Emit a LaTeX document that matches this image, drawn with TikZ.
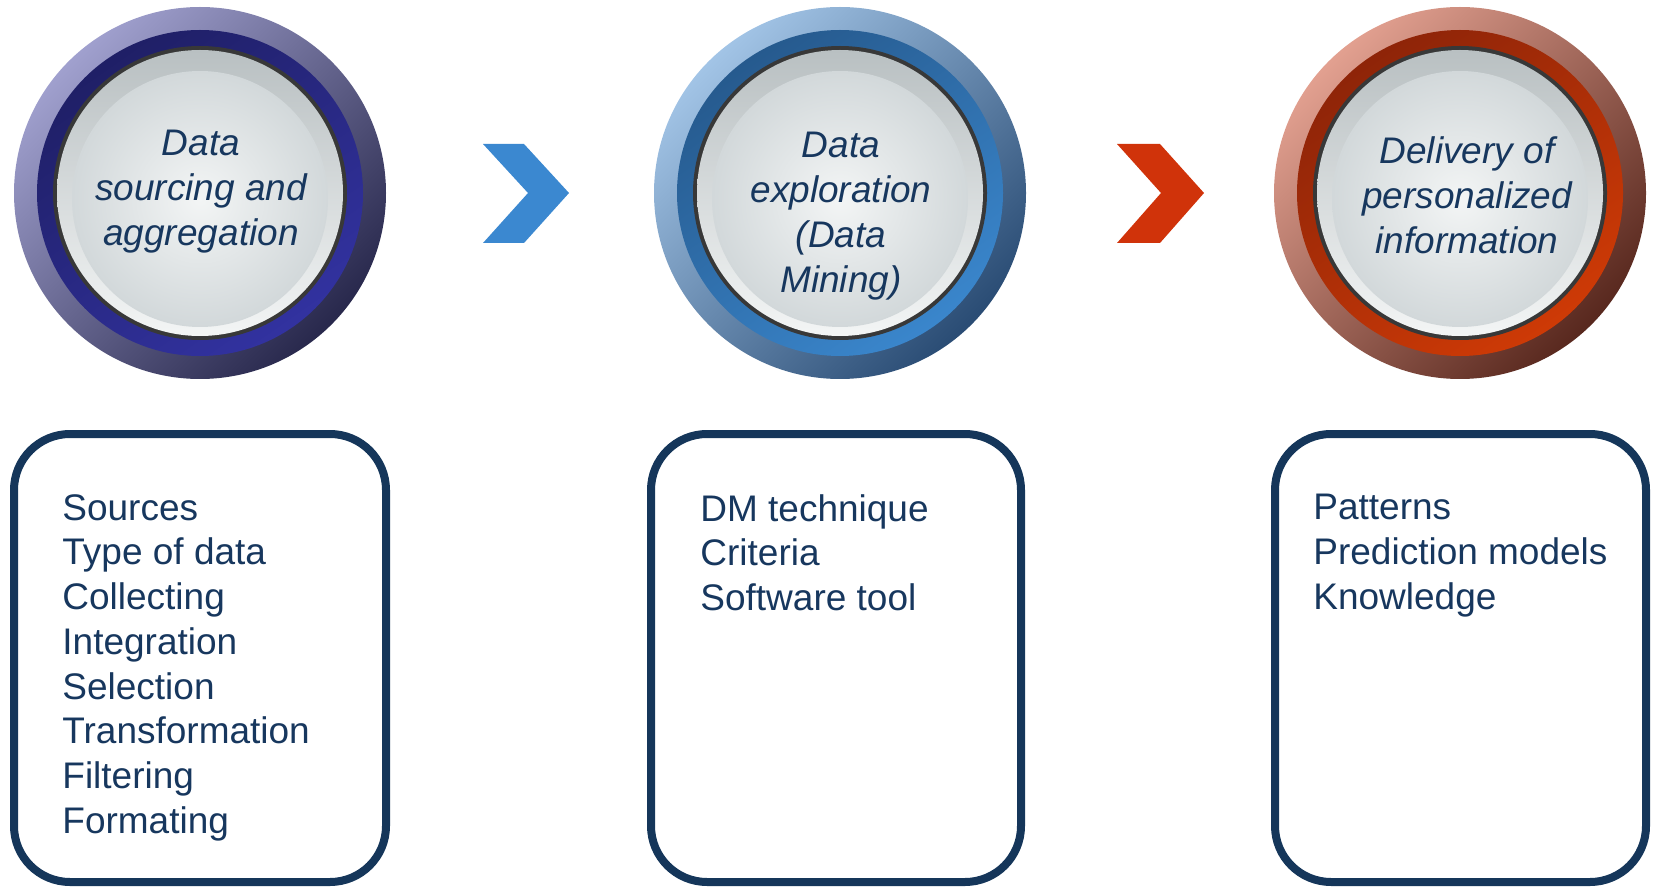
\documentclass[tikz,border=0pt]{standalone}
\usepackage{fontspec}
\setmainfont{Liberation Sans}
\definecolor{txt}{HTML}{17375E}
\definecolor{boxc}{HTML}{15365A}
\definecolor{chevblue}{HTML}{3B88D0}
\definecolor{chevred}{HTML}{D0330A}
\definecolor{faceIn}{HTML}{F3F5F5}
\definecolor{faceOut}{HTML}{D2D8DA}
\definecolor{faceTop}{HTML}{B9C0C2}
\definecolor{aL}{HTML}{A0A0CE}\definecolor{aM}{HTML}{2E2E7E}\definecolor{aD}{HTML}{28284C}
\definecolor{aRt}{HTML}{1F1F66}\definecolor{aRb}{HTML}{3232A0}
\definecolor{bL}{HTML}{A2C4E6}\definecolor{bM}{HTML}{356CA8}\definecolor{bD}{HTML}{2A4C74}
\definecolor{bRt}{HTML}{265A8E}\definecolor{bRb}{HTML}{3A86CC}
\definecolor{cL}{HTML}{E2A090}\definecolor{cM}{HTML}{A2301A}\definecolor{cD}{HTML}{58281E}
\definecolor{cRt}{HTML}{8E2408}\definecolor{cRb}{HTML}{CE3A06}
\newcommand{\dbutton}[8]{%
  \shade[top color=#3, middle color=#4, bottom color=#5, shading angle=45] (#1,#2) circle[radius=93pt];
  \shade[top color=#6, bottom color=#7, shading angle=35] (#1,#2) circle[radius=81.5pt];
  \fill[black!78] (#1,#2) circle[radius=73.5pt];
  \shade[top color=faceTop, bottom color=faceIn] (#1,#2) circle[radius=71.5pt];
  \shade[inner color=faceIn, outer color=faceOut] (#1,#2+6) circle[radius=64pt];
  \coordinate (#8) at (#1,#2);
}
\begin{document}
\begin{tikzpicture}[x=0.5pt,y=-0.5pt,
  ctext/.style={font=\itshape\fontsize{18.5pt}{22.5pt}\selectfont, text=txt, align=center, inner sep=0pt},
  btext/.style={font=\fontsize{18.5pt}{22.35pt}\selectfont, text=txt, align=left, anchor=north west, inner sep=0pt},
  panel/.style={draw=boxc, line width=4pt, rounded corners=28pt},
]
\useasboundingbox (0,0) rectangle (1653,887);

% buttons
\dbutton{200}{193}{aL}{aM}{aD}{aRt}{aRb}{c1}
\dbutton{840}{193}{bL}{bM}{bD}{bRt}{bRb}{c2}
\dbutton{1460}{193}{cL}{cM}{cD}{cRt}{cRb}{c3}

\node[ctext] (t1) at (201,192) {Data\\sourcing and\\aggregation};
\node[ctext] (t2) at (841,216) {Data\\exploration\\(Data\\Mining)};
\node[ctext] (t3) at (1467,195) {Delivery of\\personalized\\information};

% chevrons
\fill[chevblue] (483,144) -- (524,144) -- (569,193) -- (524,243) -- (483,243) -- (528,193) -- cycle;
\fill[chevred] (1117,144) -- (1160,144) -- (1204,193) -- (1160,243) -- (1117,243) -- (1161,193) -- cycle;

% panels
\draw[panel] (14,434) rectangle (386,882);
\draw[panel] (651,434) rectangle (1021,882);
\draw[panel] (1275,434) rectangle (1646,882);

\node[btext] (l1) at (62,494) {Sources\\Type of data\\Collecting\\Integration\\Selection\\Transformation\\Filtering\\Formating};
\node[btext] (l2) at (700,494) {DM technique\\Criteria\\Software tool};
\node[btext] (l3) at (1313,494) {Patterns\\Prediction models\\Knowledge};
\end{tikzpicture}
\end{document}
